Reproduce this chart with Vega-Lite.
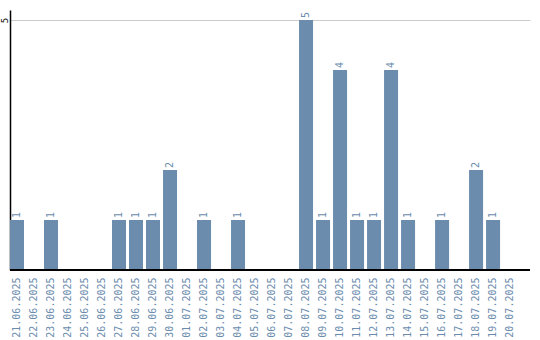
{
  "$schema": "https://vega.github.io/schema/vega-lite/v6.json",
  "width": 520,
  "height": 260,
  "autosize": {"type": "none"},
  "padding": {"left": 10, "top": 10, "right": 10, "bottom": 70},
  "background": "white",
  "config": {"view": {"stroke": null}},
  "data": {
    "values": [
      {"date": "21.06.2025", "count": 1},
      {"date": "22.06.2025", "count": 0},
      {"date": "23.06.2025", "count": 1},
      {"date": "24.06.2025", "count": 0},
      {"date": "25.06.2025", "count": 0},
      {"date": "26.06.2025", "count": 0},
      {"date": "27.06.2025", "count": 1},
      {"date": "28.06.2025", "count": 1},
      {"date": "29.06.2025", "count": 1},
      {"date": "30.06.2025", "count": 2},
      {"date": "01.07.2025", "count": 0},
      {"date": "02.07.2025", "count": 1},
      {"date": "03.07.2025", "count": 0},
      {"date": "04.07.2025", "count": 1},
      {"date": "05.07.2025", "count": 0},
      {"date": "06.07.2025", "count": 0},
      {"date": "07.07.2025", "count": 0},
      {"date": "08.07.2025", "count": 5},
      {"date": "09.07.2025", "count": 1},
      {"date": "10.07.2025", "count": 4},
      {"date": "11.07.2025", "count": 1},
      {"date": "12.07.2025", "count": 1},
      {"date": "13.07.2025", "count": 4},
      {"date": "14.07.2025", "count": 1},
      {"date": "15.07.2025", "count": 0},
      {"date": "16.07.2025", "count": 1},
      {"date": "17.07.2025", "count": 0},
      {"date": "18.07.2025", "count": 2},
      {"date": "19.07.2025", "count": 1},
      {"date": "20.07.2025", "count": 0}
    ]
  },
  "encoding": {
    "x": {
      "field": "date",
      "type": "ordinal",
      "sort": null,
      "scale": {"paddingInner": 0.176, "paddingOuter": 0.38, "align": 0},
      "axis": {
        "title": null,
        "labelAngle": -90,
        "labelAlign": "right",
        "labelBaseline": "middle",
        "labelFont": "DejaVu Sans Mono",
        "labelFontSize": 10,
        "labelColor": "#6b8cad",
        "labelPadding": 7,
        "ticks": false,
        "domain": false,
        "grid": false
      }
    },
    "y": {
      "field": "count",
      "type": "quantitative",
      "scale": {"domain": [0, 5.2], "nice": false},
      "axis": {
        "title": null,
        "values": [5],
        "ticks": false,
        "labelAngle": -90,
        "labelAlign": "center",
        "labelBaseline": "bottom",
        "labelFont": "DejaVu Sans Mono",
        "labelFontSize": 9,
        "labelColor": "black",
        "labelPadding": 1,
        "domainColor": "black",
        "domainWidth": 1.5,
        "grid": true,
        "gridColor": "#cccccc",
        "gridWidth": 1
      }
    }
  },
  "layer": [
    {"mark": {"type": "bar", "color": "#6b8cad"}},
    {
      "transform": [{"filter": "datum.count > 0"}],
      "mark": {
        "type": "text",
        "angle": 270,
        "align": "left",
        "baseline": "middle",
        "dx": 2,
        "font": "DejaVu Sans Mono",
        "fontSize": 10,
        "color": "#6b8cad"
      },
      "encoding": {"text": {"field": "count", "type": "quantitative"}}
    },
    {
      "mark": {"type": "rule", "color": "black", "strokeWidth": 1.5},
      "encoding": {"y": {"datum": 0}, "x": null}
    }
  ]
}
